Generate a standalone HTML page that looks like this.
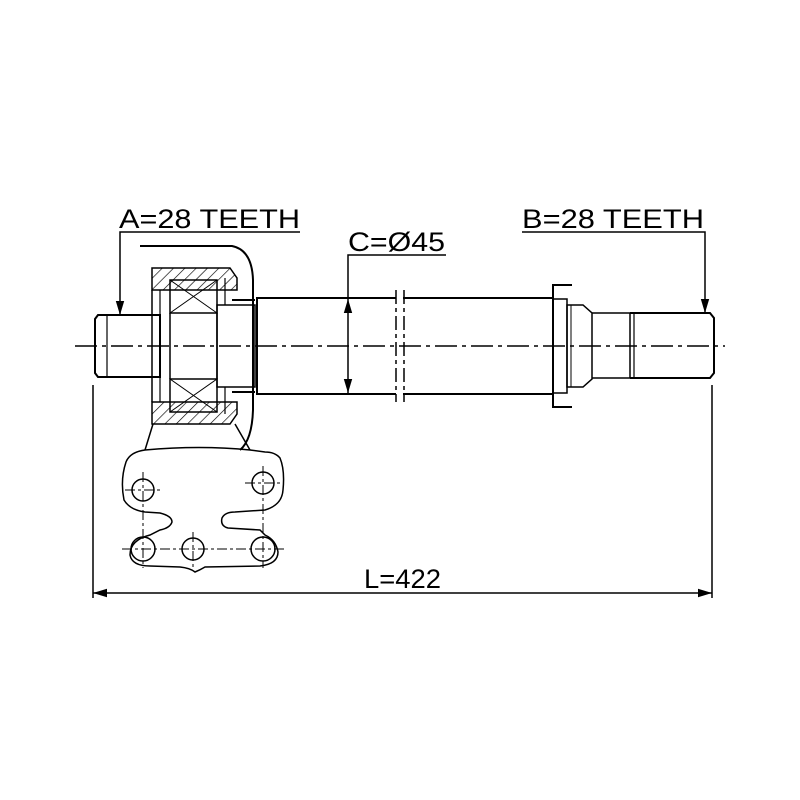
<!DOCTYPE html>
<html><head><meta charset="utf-8"><style>html,body{margin:0;padding:0;background:#fff}svg{display:block}</style></head><body>
<svg width="800" height="800" viewBox="0 0 800 800" xmlns="http://www.w3.org/2000/svg">
<defs>
<pattern id="h" patternUnits="userSpaceOnUse" width="8" height="8" patternTransform="rotate(45)"><line x1="0" y1="0" x2="0" y2="8" stroke="#000" stroke-width="1.3"/></pattern>
<marker id="ar" viewBox="0 0 10 10" refX="10" refY="5" markerWidth="14" markerHeight="14" markerUnits="userSpaceOnUse" orient="auto-start-reverse"><path d="M0,2 L10,5 L0,8 z" fill="#000"/></marker>
</defs>
<g fill="none" stroke="#000" stroke-width="2">
<line x1="75" y1="346" x2="725" y2="346" stroke-width="1.5" stroke-dasharray="22,5,4,5"/>
<path d="M98,315 L160,315 L160,377 L98,377 L95,373 L95,319 Z"/>
<line x1="107" y1="316" x2="107" y2="376" stroke-width="1.2"/>
<path d="M152,268 L230,268 L237,278 L237,290 L152,290 Z" fill="url(#h)" stroke-width="1.5"/>
<path d="M152,424 L230,424 L237,414 L237,402 L152,402 Z" fill="url(#h)" stroke-width="1.5"/>
<path d="M152,290 L152,402" stroke-width="1.5"/>
<path d="M160,290 L160,402" stroke-width="1.2"/>
<rect x="170" y="280" width="47" height="33" stroke-width="1.5"/>
<path d="M170,280 L217,313 M217,280 L170,313" stroke-width="1"/>
<rect x="170" y="379" width="47" height="33" stroke-width="1.5"/>
<path d="M170,379 L217,412 M217,379 L170,412" stroke-width="1"/>
<line x1="170" y1="313" x2="170" y2="379" stroke-width="1.5"/>
<line x1="217" y1="313" x2="217" y2="379" stroke-width="1.5"/>
<rect x="217" y="305" width="38" height="82" stroke-width="1.5"/>
<line x1="225" y1="278" x2="225" y2="305" stroke-width="1.2"/>
<line x1="225" y1="387" x2="225" y2="414" stroke-width="1.2"/>
<line x1="232" y1="300" x2="255" y2="300" stroke-width="2"/>
<line x1="232" y1="392" x2="255" y2="392" stroke-width="2"/>
<path d="M140,246 L232,246 Q252,250 253,280 L253,410 Q252,440 240,450" stroke-width="2"/>
<path d="M396,298 L257,298 L257,394 L396,394"/>
<path d="M403,298 L552,298 M403,394 L552,394"/>
<line x1="396" y1="290" x2="396" y2="402" stroke-width="1.5" stroke-dasharray="14,4,4,4"/>
<line x1="404" y1="290" x2="404" y2="402" stroke-width="1.5" stroke-dasharray="14,4,4,4"/>
<path d="M572,285 L553,285 L553,407 L572,407" stroke-width="2"/>
<rect x="553" y="299" width="14" height="94" stroke-width="1.5"/>
<path d="M567,305 L583,305 L592,313 L592,379 L583,387 L567,387 Z" stroke-width="1.5"/>
<line x1="571" y1="305" x2="571" y2="387" stroke-width="1"/>
<path d="M592,313 L630,313 L630,378 L592,378" stroke-width="1.5"/>
<path d="M630,313 L710,313 L714,318 L714,373 L710,378 L630,378" stroke-width="2"/>
<line x1="634" y1="313" x2="634" y2="378" stroke-width="1.2"/>
<path d="M153,424 L145,450 M235,424 L250,450" stroke-width="1.5"/>
<path d="M145,450 Q130,452 126,462 Q120,480 124,500 Q130,510 145,512 L160,513 Q172,516 172,522 Q170,528 160,530 L150,535 Q130,540 130,555 Q132,566 150,566 L180,567 Q190,568 195,572 Q200,570 205,567 L260,566 Q278,564 278,552 Q276,540 265,535 L260,530 L228,528 Q220,526 222,518 Q225,512 235,512 L265,510 Q282,505 283,490 Q285,470 280,458 Q275,452 265,452 L250,450 Q200,445 145,450 Z" stroke-width="1.5"/>
<g stroke-width="1.5">
<circle cx="143" cy="490" r="11"/><circle cx="263" cy="483" r="11"/>
<circle cx="143" cy="549" r="12"/><circle cx="193" cy="549" r="11"/><circle cx="263" cy="549" r="12"/>
</g>
<g stroke-width="1" stroke-dasharray="10,3,3,3">
<line x1="125" y1="490" x2="162" y2="490"/><line x1="143" y1="472" x2="143" y2="568"/>
<line x1="245" y1="483" x2="282" y2="483"/><line x1="263" y1="466" x2="263" y2="568"/>
<line x1="122" y1="549" x2="285" y2="549"/><line x1="193" y1="532" x2="193" y2="568"/>
</g>
<g stroke-width="1.5">
<line x1="93" y1="385" x2="93" y2="598"/>
<line x1="712" y1="385" x2="712" y2="598"/>
<line x1="93" y1="593" x2="712" y2="593" marker-start="url(#ar)" marker-end="url(#ar)"/>
<path d="M300,232 L120,232 L120,315" marker-end="url(#ar)"/>
<path d="M522,232 L705,232 L705,313" marker-end="url(#ar)"/>
<path d="M446,255 L348,255 L348,298"/>
<line x1="348" y1="299" x2="348" y2="393" marker-start="url(#ar)" marker-end="url(#ar)"/>
</g>
</g>
<g font-family="Liberation Sans, sans-serif" font-size="27" fill="#000">
<text x="119" y="228" textLength="181" lengthAdjust="spacingAndGlyphs">A=28 TEETH</text>
<text x="522" y="228" textLength="182" lengthAdjust="spacingAndGlyphs">B=28 TEETH</text>
<text x="348" y="251" textLength="97" lengthAdjust="spacingAndGlyphs">C=Ø45</text>
<text x="364" y="588" textLength="77" lengthAdjust="spacingAndGlyphs">L=422</text>
</g>
</svg>
</body></html>
